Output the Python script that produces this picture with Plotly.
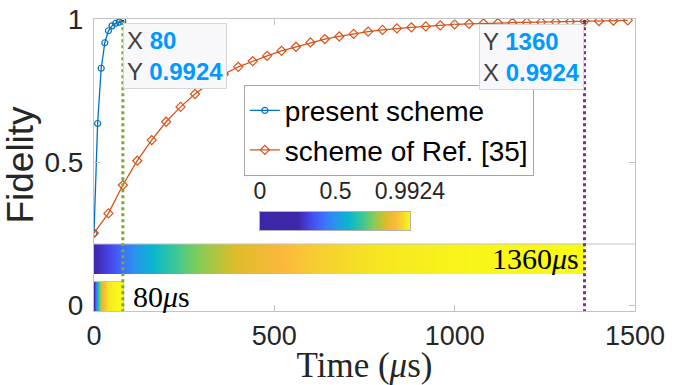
import plotly.graph_objects as go

# ---------------- data ----------------
time_present = [0, 10, 20, 30, 40, 50, 60, 70, 80]
fid_present = [0.252, 0.635, 0.828, 0.917, 0.959, 0.976, 0.985, 0.989, 0.9924]

time_ref = [0, 40, 80, 120, 160, 200, 240, 280, 320, 360, 400, 440, 480, 520,
            560, 600, 640, 680, 720, 760, 800, 840, 880, 920, 960, 1000, 1040,
            1080, 1120, 1160, 1200, 1240, 1280, 1320, 1360, 1400, 1440, 1480]
fid_ref = [0.252, 0.321, 0.420, 0.505, 0.577, 0.641, 0.693, 0.738, 0.775, 0.807,
           0.833, 0.853, 0.871, 0.889, 0.903, 0.918, 0.930, 0.939, 0.948, 0.956,
           0.962, 0.967, 0.971, 0.974, 0.978, 0.981, 0.983, 0.985, 0.986, 0.987,
           0.988, 0.989, 0.990, 0.991, 0.9924, 0.993, 0.994, 0.995]

target_fid = 0.9924
t_present_hit = 80
t_ref_hit = 1360

x_ticks = [0, 500, 1000, 1500]
y_ticks = [0, 0.5, 1]
y_tick_text = ["0", "0.5", "1"]
colorbar_ticks = [0, 0.5, 0.9924]
colorbar_text = ["0", "0.5", "0.9924"]

legend_names = ["present scheme", "scheme of Ref. [35]"]

# ---------------- styles ----------------
BLUE = "#0072bd"
ORANGE = "#d95319"
GREEN = "#77ac30"
PURPLE = "#7e2f8e"
TIP_BLUE = "#0099ff"
AX_GRAY = "#c3c3c3"
TXT = "#262626"
SANS = "Liberation Sans, Arial, sans-serif"
SERIF = "Liberation Serif, Times New Roman, serif"

X_MAX = 1500
Y_MIN, Y_MAX = -0.02, 1.0

parula = ["#3e26a8", "#4747eb", "#3e6ffe", "#2796eb", "#08b5d0", "#31c69f",
          "#80cc59", "#dcbd29", "#fbb83c", "#f5d82a", "#f9fb15"]
par_pos = [0, 0.111, 0.222, 0.333, 0.444, 0.556, 0.667, 0.778, 0.86, 0.93, 1.0]
colorscale = [[0.0, parula[0]]] + [[0.25 + 0.75 * p, c] for p, c in zip(par_pos, parula)]

# bar layout (paper fractions)
BIG_BAR = (0.1267, 0.2295)
SMALL_BAR = (0.0, 0.0993)
CBAR_X = (0.3068, 0.584)
CBAR_Y = (0.277, 0.339)

fig = go.Figure()

# main curves
fig.add_trace(go.Scatter(
    x=time_present, y=fid_present, mode="lines+markers", name=legend_names[0],
    line=dict(color=BLUE, width=1.3),
    marker=dict(symbol="circle-open", size=6, color=BLUE, line=dict(width=1.2)),
    xaxis="x", yaxis="y"))
fig.add_trace(go.Scatter(
    x=time_ref, y=fid_ref, mode="lines+markers", name=legend_names[1],
    line=dict(color=ORANGE, width=1.3),
    marker=dict(symbol="diamond-open", size=7, color=ORANGE, line=dict(width=1.2)),
    xaxis="x", yaxis="y"))
# datatip dots
fig.add_trace(go.Scatter(
    x=[t_present_hit, t_ref_hit], y=[target_fid, target_fid], mode="markers",
    marker=dict(size=3, color="#222222"), showlegend=False, xaxis="x", yaxis="y"))

# colour strip (colorbar)
fig.add_trace(go.Heatmap(
    z=[[colorbar_ticks[0], colorbar_ticks[-1]], [colorbar_ticks[0], colorbar_ticks[-1]]],
    x=[colorbar_ticks[0], colorbar_ticks[-1]], y=[0, 1], zsmooth="best",
    coloraxis="coloraxis", xaxis="x2", yaxis="y2", hoverinfo="skip"))

# big bar: reference scheme up to 1360
n_ref = time_ref.index(t_ref_hit) + 1
fig.add_trace(go.Heatmap(
    z=[fid_ref[:n_ref], fid_ref[:n_ref]], x=time_ref[:n_ref], y=[0, 1], zsmooth="best",
    coloraxis="coloraxis", xaxis="x3", yaxis="y3", hoverinfo="skip"))

# small bar: present scheme up to 80
fig.add_trace(go.Heatmap(
    z=[fid_present, fid_present], x=time_present, y=[0, 1], zsmooth="best",
    coloraxis="coloraxis", xaxis="x4", yaxis="y4", hoverinfo="skip"))

hidden = dict(visible=False, fixedrange=True)

fig.update_layout(
    width=699, height=385,
    margin=dict(l=94, r=64, t=19, b=74, autoexpand=False),
    paper_bgcolor="white", plot_bgcolor="white",
    showlegend=True,
    coloraxis=dict(colorscale=colorscale, cmin=colorbar_ticks[0], cmax=colorbar_ticks[-1],
                   showscale=False),
    xaxis=dict(domain=[0, 1], range=[0, X_MAX], tickvals=x_ticks, automargin=False,
               showline=True, linecolor=AX_GRAY, linewidth=1, mirror="ticks",
               ticks="inside", ticklen=6, tickcolor=AX_GRAY, showgrid=False, zeroline=False,
               tickfont=dict(family=SANS, size=27, color=TXT), ticklabelstandoff=1,
               title=dict(text="Time (<i>μ</i>s)", font=dict(family=SERIF, size=35, color=TXT),
                          standoff=2)),
    yaxis=dict(domain=[0, 1], range=[Y_MIN, Y_MAX], tickvals=y_ticks, ticktext=y_tick_text,
               automargin=False,
               showline=True, linecolor=AX_GRAY, linewidth=1, mirror="ticks",
               ticks="inside", ticklen=6, tickcolor=AX_GRAY, showgrid=False, zeroline=False,
               tickfont=dict(family=SANS, size=28, color=TXT), ticklabelstandoff=4,
               title=dict(text="Fidelity", font=dict(family=SANS, size=37, color=TXT),
                          standoff=0)),
    xaxis2=dict(domain=list(CBAR_X), range=[colorbar_ticks[0], colorbar_ticks[-1]],
                anchor="y2", side="top", tickvals=colorbar_ticks, ticktext=colorbar_text,
                ticks="", showline=True, mirror=True, linecolor="#b0b0b0", automargin=False,
                showgrid=False, zeroline=False, fixedrange=True, ticklabelstandoff=3,
                tickfont=dict(family=SANS, size=23, color=TXT)),
    yaxis2=dict(domain=list(CBAR_Y), range=[0, 1], anchor="x2", showline=True, mirror=True,
                linecolor="#b0b0b0", showticklabels=False, ticks="", showgrid=False,
                zeroline=False, fixedrange=True, automargin=False),
    xaxis3=dict(domain=[0, t_ref_hit / X_MAX], range=[0, t_ref_hit], anchor="y3", **hidden),
    yaxis3=dict(domain=list(BIG_BAR), range=[0, 1], anchor="x3", **hidden),
    xaxis4=dict(domain=[0, t_present_hit / X_MAX], range=[0, t_present_hit], anchor="y4",
                showline=True, mirror=True, linecolor=AX_GRAY, showticklabels=False,
                ticks="", showgrid=False, zeroline=False, fixedrange=True, automargin=False),
    yaxis4=dict(domain=list(SMALL_BAR), range=[0, 1], anchor="x4",
                showline=True, mirror=True, linecolor=AX_GRAY, showticklabels=False,
                ticks="", showgrid=False, zeroline=False, fixedrange=True, automargin=False),
    legend=dict(x=0.277, y=0.775, xanchor="left", yanchor="top",
                bgcolor="white", bordercolor="#a6a6a6", borderwidth=1,
                font=dict(family=SANS, size=28, color="#000000"),
                itemwidth=30, tracegroupgap=0),
)

# top border of the big bar inset axes (full width)
fig.add_shape(type="line", xref="paper", yref="paper", x0=0, x1=1,
              y0=BIG_BAR[1], y1=BIG_BAR[1], line=dict(color=AX_GRAY, width=1), layer="above")

# dotted markers of the target fidelity
fig.add_shape(type="line", xref="x", yref="y", x0=t_present_hit, x1=t_present_hit,
              y0=target_fid, y1=Y_MIN, line=dict(color=GREEN, width=3, dash="dot"), layer="above")
fig.add_shape(type="line", xref="x", yref="y", x0=t_ref_hit, x1=t_ref_hit,
              y0=target_fid, y1=Y_MIN, line=dict(color=PURPLE, width=3, dash="dot"), layer="above")

tip_font = dict(family=SANS, size=24, color="#404040")


def val(v):
    return f"<span style='color:{TIP_BLUE}'><b>{v}</b></span>"


fig.add_annotation(x=t_present_hit, y=target_fid, xref="x", yref="y",
                   xanchor="left", yanchor="top", align="left", showarrow=False,
                   text=f"X {val(t_present_hit)}<br>Y {val(target_fid)}",
                   font=tip_font, bgcolor="#f8f8fb", bordercolor="#d6d6d6",
                   borderwidth=1, borderpad=3, yshift=-2)
fig.add_annotation(x=t_ref_hit, y=target_fid, xref="x", yref="y",
                   xanchor="right", yanchor="top", align="left", showarrow=False,
                   text=f"Y {val(t_ref_hit)}<br>X {val(target_fid)}",
                   font=tip_font, bgcolor="#f8f8fb", bordercolor="#d6d6d6",
                   borderwidth=1, borderpad=3, yshift=-3, xshift=-1)

# bar labels
bar_font = dict(family=SERIF, size=30, color="#000000")
fig.add_annotation(x=t_ref_hit, y=0.5, xref="x3", yref="y3", xanchor="right", yanchor="middle",
                   showarrow=False, text=f"{t_ref_hit}<i>μ</i>s", font=bar_font, xshift=-4)
fig.add_annotation(x=t_present_hit, y=0.5, xref="x4", yref="y4", xanchor="left", yanchor="middle",
                   showarrow=False, text=f"{t_present_hit}<i>μ</i>s", font=bar_font, xshift=8)

fig.write_html("out.html")
